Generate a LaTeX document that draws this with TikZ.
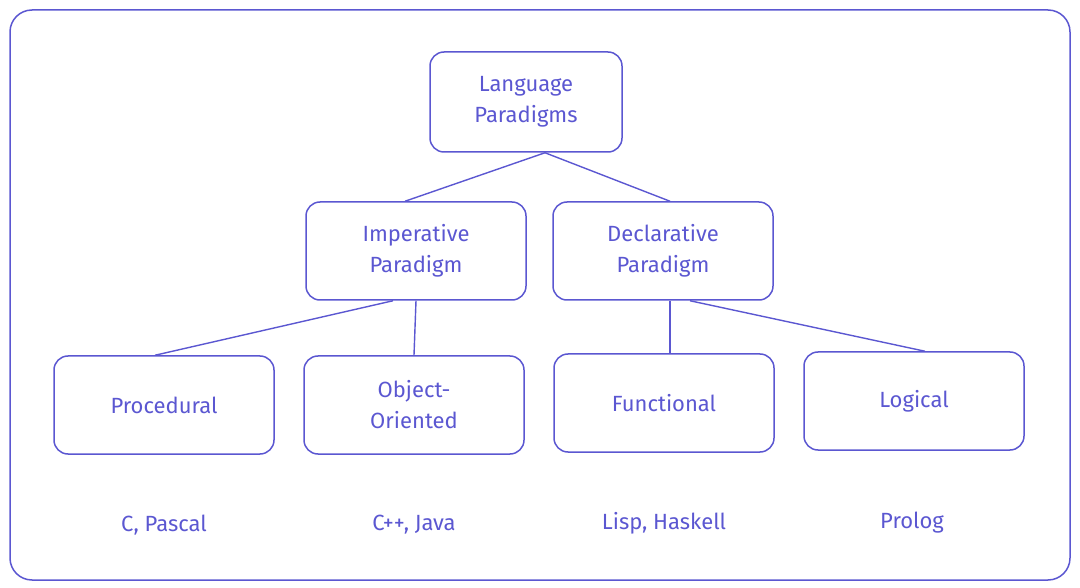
\documentclass[tikz,border=0pt]{standalone}
\usepackage{fontspec}
\setmainfont{Fira Sans}
\usetikzlibrary{calc}
\definecolor{ink}{HTML}{5B57D1}
\begin{document}
\begin{tikzpicture}[x=1pt,y=-1pt,
  box/.style={draw=ink,line width=1.5pt,rounded corners=14pt,minimum width=220pt,minimum height=98pt,text=ink,align=center,font=\fontsize{22}{31}\selectfont,inner sep=0pt},
  lab/.style={text=ink,font=\fontsize{22}{28}\selectfont},
  edge/.style={draw=ink,line width=1.4pt}]
\useasboundingbox (0,0) rectangle (1080,588);
\draw[ink,line width=1.5pt,rounded corners=22pt] (10,10) rectangle (1070,580);
\node[box,minimum width=192pt,minimum height=100pt] (lp) at (526,102) {Language\\Paradigms};
\node[box] (imp) at (416,251) {Imperative\\Paradigm};
\node[box] (dec) at (663,251) {Declarative\\Paradigm};
\node[box] (pro) at (164,405) {Procedural};
\node[box] (oo) at (414,405) {Object-\\Oriented};
\node[box] (fun) at (664,403) {Functional};
\node[box] (log) at (914,401) {Logical};
\node[lab] (l1) at (164,525) {C, Pascal};
\node[lab] (l2) at (414,525) {C++, Java};
\node[lab] (l3) at (664,523) {Lisp, Haskell};
\node[lab] (l4) at (912,523) {Prolog};
\draw[edge] ($(lp.south)+(19,0)$) -- ($(imp.north)+(-11,0)$);
\draw[edge] ($(lp.south)+(19,0)$) -- ($(dec.north)+(7,0)$);
\draw[edge] ($(imp.south)+(-23,0)$) -- ($(pro.north)+(-9,0)$);
\draw[edge] (imp.south) -- (oo.north);
\draw[edge] ($(dec.south)+(7,0)$) -- ($(fun.north)+(6,0)$);
\draw[edge] ($(dec.south)+(27,0)$) -- ($(log.north)+(11,0)$);
\end{tikzpicture}
\end{document}
